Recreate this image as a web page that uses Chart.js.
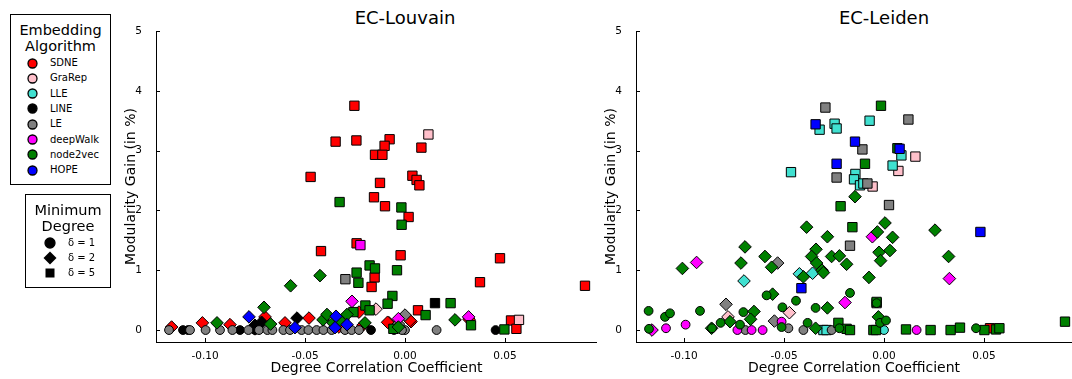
<!DOCTYPE html>
<html>
<head>
<meta charset="utf-8">
<script src="https://cdn.jsdelivr.net/npm/chart.js@4.4.0/dist/chart.umd.min.js"></script>
<style>
  body { margin: 0; background: #fff; width: 1072px; height: 379px; overflow: hidden; position: relative; font-family: "DejaVu Sans", sans-serif; }
  canvas { position: absolute; top: 0; }
  #chartLouvain { left: 110px; }
  #chartLeiden { left: 590px; }
  .ptitle { position: absolute; top: 7px; width: 200px; margin-left: -100px; text-align: center; font-size: 18px; line-height: 22px; }
  .legend { position: absolute; border: 1px solid #000; background: #fff; box-sizing: border-box; }
  .legend .head { position: absolute; left: 0; right: 0; text-align: center; font-size: 14.5px; line-height: 16px; }
  .legend .row { position: absolute; font-size: 10px; line-height: 12px; white-space: nowrap; }
  .legend svg { position: absolute; }
</style>
</head>
<body>
<div class="ptitle" style="left:405px">EC-Louvain</div>
<div class="ptitle" style="left:884px">EC-Leiden</div>
<canvas id="chartLouvain" width="487" height="379"></canvas>
<canvas id="chartLeiden" width="482" height="379"></canvas>
<div id="legendAlgo" class="legend" style="left:10px;top:14px;width:101px;height:171px"></div>
<div id="legendDeg" class="legend" style="left:25px;top:194px;width:86px;height:94px"></div>
<script>
const algorithms = ['SDNE', 'GraRep', 'LLE', 'LINE', 'LE', 'deepWalk', 'node2vec', 'HOPE'];
const algoColors = ['#ff0000', '#ffc0cb', '#40e0d0', '#000000', '#808080', '#ff00ff', '#008000', '#0000ff'];
const degrees = [1, 2, 5];
const xTicks = [-0.10, -0.05, 0.00, 0.05];
const yTicks = [0, 1, 2, 3, 4, 5];

// points are [degree correlation, modularity gain, minimum degree]
const louvainSDNE = [
  [-0.0253, 3.75, 5], [-0.0347, 3.15, 5], [-0.0243, 3.17, 5], [-0.0077, 3.19, 5], [-0.0102, 3.08, 5],
  [-0.015, 2.93, 5], [-0.0113, 2.93, 5], [0.0082, 3.05, 5], [-0.0472, 2.56, 5], [-0.0125, 2.46, 5],
  [0.0037, 2.58, 5], [0.0058, 2.51, 5], [0.0072, 2.42, 5], [-0.0155, 2.22, 5], [-0.01, 2.07, 5],
  [0.0018, 1.89, 5], [-0.0242, 1.45, 5], [-0.042, 1.32, 5], [-0.0022, 1.25, 5], [-0.0152, 0.88, 5],
  [-0.0167, 0.72, 5], [0.0065, 0.33, 5], [0.0475, 1.2, 5], [0.0375, 0.8, 5], [0.09, 0.74, 5],
  [0.053, 0.16, 5], [0.0557, 0.02, 5],
  [-0.1167, 0.05, 2], [-0.1013, 0.12, 2], [-0.0875, 0.09, 2], [-0.07, 0.22, 2], [-0.06, 0.12, 2],
  [-0.048, 0.2, 2], [-0.031, 0.17, 2], [-0.023, 0.3, 2], [-0.008, 0.12, 2], [0.003, 0.14, 2],
  [-0.0087, 0.13, 2], [0.0025, 0.16, 2], [0.032, 0.18, 2], [-0.033, 0.05, 2], [-0.021, 0.08, 2], [-0.075, 0.02, 2]
];
const louvainGraRep = [[0.0117, 3.27, 5], [0.057, 0.17, 5], [-0.0145, 0.35, 2]];
const louvainLLE = [];
const louvainLINE = [
  [-0.111, 0, 1], [-0.1085, 0, 1], [-0.0825, 0, 1], [-0.075, 0, 1], [-0.017, 0, 1], [0.0453, 0, 1],
  [-0.0717, 0.13, 2], [-0.054, 0.2, 2], [-0.075, 0.08, 2], [0.015, 0.45, 5]
];
const louvainLE = [
  [-0.118, 0, 1], [-0.1075, 0, 1], [-0.0997, 0, 1], [-0.0925, 0, 1], [-0.0863, 0, 1], [-0.0783, 0, 1],
  [-0.073, 0, 1], [-0.0688, 0, 1], [-0.0663, 0, 1], [-0.0608, 0, 1], [-0.0517, 0, 1], [-0.0483, 0, 1],
  [-0.0442, 0, 1], [-0.0408, 0, 1], [-0.0367, 0, 1], [-0.03, 0, 1], [-0.0267, 0, 1], [-0.023, 0, 1],
  [0.0, 0, 1], [0.0158, 0, 1], [-0.0055, 0, 1], [-0.0575, 0, 1], [-0.0015, 0, 1],
  [0.0, 0.25, 2], [-0.0033, 0.1, 2], [-0.0298, 0.85, 5]
];
const louvainDeepWalk = [[-0.0265, 0.48, 2], [-0.0033, 0.19, 2], [0.0318, 0.22, 2], [-0.0223, 1.42, 5]];
const louvainNode2vec = [
  [-0.0327, 2.14, 5], [-0.0018, 2.05, 5], [-0.0017, 1.76, 5], [-0.0177, 1.08, 5], [-0.015, 1.03, 5],
  [-0.0242, 0.96, 5], [-0.004, 1.0, 5], [-0.0233, 0.79, 5], [-0.0063, 0.57, 5], [-0.0087, 0.44, 5],
  [-0.0198, 0.41, 5], [-0.0177, 0.33, 5], [-0.0258, 0.30, 5], [0.0103, 0.25, 5], [0.0228, 0.45, 5],
  [0.033, 0.08, 5], [0.0497, 0.01, 5], [-0.0058, 0.02, 5],
  [-0.0425, 0.91, 2], [-0.0572, 0.74, 2], [-0.0705, 0.38, 2], [-0.094, 0.12, 2], [-0.0672, 0.1, 2],
  [-0.041, 0.17, 2], [-0.039, 0.26, 2], [-0.036, 0.12, 2], [-0.029, 0.26, 2], [-0.02, 0.12, 2],
  [-0.0033, 0.05, 2], [0.025, 0.17, 2], [-0.0325, 0.16, 2]
];
const louvainHOPE = [[-0.078, 0.22, 2], [-0.055, 0.04, 2], [-0.0345, 0.23, 2], [-0.035, 0.04, 2], [-0.029, 0.09, 2]];

const leidenSDNE = [[0.053, 0.03, 5]];
const leidenGraRep = [[0.0157, 2.9, 5], [0.0072, 2.66, 5], [-0.0057, 2.4, 5], [-0.078, 0.22, 2], [-0.0473, 0.29, 2]];
const leidenLLE = [
  [-0.0322, 3.35, 5], [-0.0247, 3.45, 5], [-0.0237, 3.37, 5], [-0.0072, 3.5, 5], [0.0087, 2.92, 5],
  [-0.0465, 2.64, 5], [-0.0143, 2.61, 5], [-0.015, 2.52, 5], [-0.012, 2.42, 5], [-0.0103, 2.45, 5],
  [0.0043, 2.75, 5], [-0.0303, 0, 5], [-0.0287, 0, 5],
  [-0.0423, 0.94, 2], [-0.0357, 0.95, 2], [-0.07, 0.82, 2], [0.0, 0, 1]
];
const leidenLINE = [];
const leidenLE = [
  [-0.0293, 3.72, 5], [0.0122, 3.52, 5], [-0.0108, 3.02, 5], [-0.0237, 2.55, 5], [-0.0083, 2.45, 5],
  [0.0025, 2.09, 5], [-0.017, 1.41, 5], [-0.0037, 0.45, 5],
  [-0.0532, 1.12, 2], [-0.079, 0.43, 2], [-0.0548, 0.15, 2],
  [-0.0693, 0, 1], [-0.0478, 0.03, 1], [-0.0403, 0, 1], [-0.0262, 0, 1]
];
const leidenDeepWalk = [
  [-0.0937, 1.13, 2], [-0.0058, 1.56, 2], [0.0327, 0.86, 2], [-0.0195, 0.46, 2], [-0.116, 0, 2],
  [-0.109, 0.03, 1], [-0.0992, 0.09, 1], [-0.0733, 0, 1], [-0.0662, 0, 1], [-0.0607, 0, 1], [-0.0512, 0.14, 1], [0.0163, 0, 1]
];
const leidenNode2vec = [
  [-0.0015, 3.75, 5], [0.0067, 3.04, 5], [-0.0095, 2.78, 5], [-0.0217, 2.07, 5], [-0.0158, 1.72, 5],
  [-0.0228, 0.12, 5], [-0.0187, 0.02, 5], [-0.017, 0, 5], [-0.0053, 0, 5], [-0.004, 0, 5],
  [0.011, 0.01, 5], [0.0233, 0, 5], [0.0333, 0, 5], [0.038, 0.04, 5], [0.0502, 0, 5],
  [0.056, 0.01, 5], [0.0577, 0.03, 5], [0.0905, 0.14, 5], [-0.0037, 0.47, 5],
  [-0.0145, 2.23, 2], [-0.0387, 1.72, 2], [-0.0283, 1.56, 2], [0.0005, 1.79, 2], [-0.0033, 1.64, 2],
  [0.0043, 1.55, 2], [0.003, 1.33, 2], [-0.0025, 1.3, 2], [-0.0017, 1.16, 2], [-0.0695, 1.39, 2],
  [-0.0715, 1.12, 2], [-0.0595, 1.23, 2], [-0.0562, 1.05, 2], [-0.034, 1.35, 2], [-0.0362, 1.23, 2],
  [-0.0337, 1.12, 2], [-0.0262, 1.23, 2], [-0.0223, 1.24, 2], [-0.0187, 1.1, 2], [-0.031, 1.0, 2],
  [-0.0303, 0.96, 2], [-0.0403, 0.89, 2], [-0.0075, 0.88, 2], [-0.1008, 1.03, 2], [-0.0557, 0.6, 2],
  [-0.065, 0.31, 2], [-0.0283, 0.37, 2], [0.0255, 1.67, 2], [0.0323, 1.23, 2], [-0.0862, 0.03, 2],
  [-0.077, 0.14, 2], [-0.0667, 0.18, 2], [-0.0342, 0.03, 2], [-0.0028, 0.22, 2],
  [-0.0587, 0.58, 1], [-0.044, 0.49, 1], [-0.017, 0.62, 1], [-0.1177, 0.32, 1], [-0.1095, 0.22, 1],
  [-0.107, 0.28, 1], [-0.092, 0.32, 1], [-0.0703, 0.3, 1], [-0.0508, 0.38, 1], [-0.0342, 0.37, 1],
  [-0.0037, 0.45, 1], [-0.1175, 0.02, 1], [-0.086, 0.03, 1], [-0.0817, 0.12, 1], [-0.072, 0.09, 1],
  [-0.0512, 0.05, 1], [-0.0382, 0.12, 1], [-0.0223, 0.03, 1], [-0.002, 0.12, 1], [0.001, 0.16, 1], [0.046, 0.03, 1]
];
const leidenHOPE = [[-0.0342, 3.44, 5], [-0.0145, 3.15, 5], [0.0078, 3.03, 5], [-0.0237, 2.78, 5], [-0.0413, 0.70, 5], [0.0482, 1.64, 5]];

const louvainData = [louvainSDNE, louvainGraRep, louvainLLE, louvainLINE, louvainLE, louvainDeepWalk, louvainNode2vec, louvainHOPE];
const leidenData = [leidenSDNE, leidenGraRep, leidenLLE, leidenLINE, leidenLE, leidenDeepWalk, leidenNode2vec, leidenHOPE];

const shapeOf = { 1: 'circle', 2: 'rectRot', 5: 'rect' };
const radiusOf = { 1: 4.4, 2: 6.3, 5: 6.6 };
const FONT = '"DejaVu Sans", sans-serif';

const innerTicks = {
  id: 'innerTicks',
  afterDraw(chart) {
    const { ctx, chartArea: a, scales: { x, y } } = chart;
    ctx.save();
    ctx.strokeStyle = '#000';
    ctx.lineWidth = 1;
    ctx.beginPath();
    x.ticks.forEach(t => {
      const p = Math.round(x.getPixelForValue(t.value)) + 0.5;
      ctx.moveTo(p, a.bottom);
      ctx.lineTo(p, a.bottom - 4);
    });
    y.ticks.forEach(t => {
      const p = Math.round(y.getPixelForValue(t.value)) + 0.5;
      ctx.moveTo(a.left, p);
      ctx.lineTo(a.left + 4, p);
    });
    ctx.stroke();
    ctx.restore();
  }
};

function makeChart(id, series, xMin, xMax) {
  const datasets = algorithms.map((name, i) => ({
    label: name,
    data: series[i].map(p => ({ x: p[0], y: p[1], d: p[2] })),
    backgroundColor: algoColors[i],
    borderColor: '#000',
    borderWidth: 1,
    pointStyle: c => (c.raw ? shapeOf[c.raw.d] : 'circle'),
    pointRadius: c => (c.raw ? radiusOf[c.raw.d] : 4),
    order: algorithms.length - i
  }));

  return new Chart(document.getElementById(id), {
    type: 'scatter',
    data: { datasets },
    plugins: [innerTicks],
    options: {
      responsive: false,
      animation: false,
      events: [],
      layout: { autoPadding: false, padding: { top: 31, right: 0, bottom: 0, left: 0 } },
      plugins: { legend: { display: false }, tooltip: { enabled: false } },
      scales: {
        x: {
          type: 'linear', min: xMin, max: xMax,
          grid: { display: false },
          border: { display: true, color: '#000', width: 1 },
          afterBuildTicks: s => { s.ticks = xTicks.map(v => ({ value: v })); },
          afterFit: s => { s.height = 37; s.paddingLeft = 0; s.paddingRight = 0; },
          ticks: { color: '#000', padding: 0, font: { family: FONT, size: 10.5 }, callback: v => v.toFixed(2) },
          title: { display: true, text: 'Degree Correlation Coefficient', color: '#000', padding: { top: 0, bottom: 2 }, font: { family: FONT, size: 14 } }
        },
        y: {
          type: 'linear', min: -0.2, max: 5,
          grid: { display: false },
          border: { display: true, color: '#000', width: 1 },
          afterBuildTicks: s => { s.ticks = yTicks.map(v => ({ value: v })); },
          afterFit: s => { s.width = 46; s.paddingTop = 0; s.paddingBottom = 0; },
          ticks: { color: '#000', padding: 6, font: { family: FONT, size: 10.5 }, callback: v => String(v) },
          title: { display: true, text: 'Modularity Gain (in %)', color: '#000', padding: { top: 13, bottom: 0 }, font: { family: FONT, size: 14 } }
        }
      }
    }
  });
}

makeChart('chartLouvain', louvainData, -0.1245, 0.096);
makeChart('chartLeiden', leidenData, -0.124, 0.094);

// legends
function markerSvg(shape, color, cx, cy, size) {
  let inner;
  if (shape === 'circle') inner = `<circle cx="${size}" cy="${size}" r="${size - 1}" fill="${color}" stroke="#000" stroke-width="1.3"/>`;
  else if (shape === 'rectRot') inner = `<polygon points="${size},0.5 ${2 * size - 0.5},${size} ${size},${2 * size - 0.5} 0.5,${size}" fill="${color}"/>`;
  else inner = `<rect x="1.5" y="1.5" width="${2 * size - 3}" height="${2 * size - 3}" fill="${color}"/>`;
  return `<svg width="${2 * size}" height="${2 * size}" style="left:${cx - size}px;top:${cy - size}px">${inner}</svg>`;
}

const algoLegend = document.getElementById('legendAlgo');
let html = '<div class="head" style="top:7px">Embedding</div><div class="head" style="top:23px">Algorithm</div>';
algorithms.forEach((name, i) => {
  const cy = 48 + i * 15.3;
  html += markerSvg('circle', algoColors[i], 21, cy, 5.5);
  html += `<div class="row" style="left:39px;top:${cy - 6}px">${name}</div>`;
});
algoLegend.innerHTML = html;

const degLegend = document.getElementById('legendDeg');
html = '<div class="head" style="top:7px">Minimum</div><div class="head" style="top:23px">Degree</div>';
degrees.forEach((d, i) => {
  const cy = 48 + i * 15;
  html += markerSvg(shapeOf[d], '#000', 24, cy, d === 2 ? 7 : 6);
  html += `<div class="row" style="left:42px;top:${cy - 6}px">\u03b4 = ${d}</div>`;
});
degLegend.innerHTML = html;
</script>
</body>
</html>
